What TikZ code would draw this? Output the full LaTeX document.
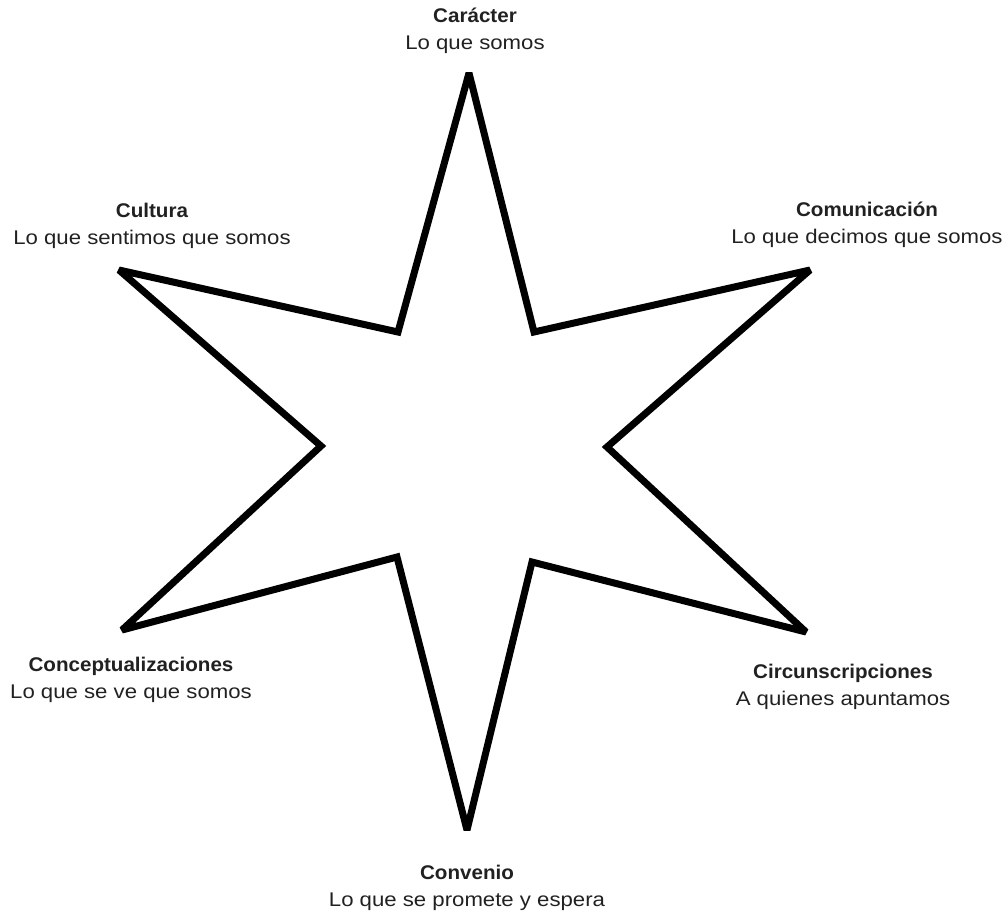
\documentclass[tikz,border=0pt]{standalone}
\usepackage{fontspec}
\setmainfont{Liberation Sans}[FakeStretch=1.12,BoldFeatures={FakeStretch=1.04}]
\begin{document}
\begin{tikzpicture}[x=1pt,y=-1pt,
  star/.style={draw=black,line width=7pt,line join=miter,miter limit=3,fill=white},
  lbl/.style={align=center,font=\fontsize{19.8}{27.5}\selectfont,text=black!87,inner sep=0pt}]
\useasboundingbox (0,0) rectangle (1008,913);
\coordinate (o1) at (469,73);
\coordinate (i1) at (534,332);
\coordinate (o2) at (810,270);
\coordinate (i2) at (607,447);
\coordinate (o3) at (806,632);
\coordinate (i3) at (532,562);
\coordinate (o4) at (467,830);
\coordinate (i4) at (397,557);
\coordinate (o5) at (122,630);
\coordinate (i5) at (321,446);
\coordinate (o6) at (119,270);
\coordinate (i6) at (398,332);
\draw[star] (o1) -- (i1) -- (o2) -- (i2) -- (o3) -- (i3) -- (o4) -- (i4) -- (o5) -- (i5) -- (o6) -- (i6) -- cycle;
\node[lbl] (caracter) at (475,31) {\textbf{Carácter}\\Lo que somos};
\node[lbl] (cultura) at (152,226) {\textbf{Cultura}\\Lo que sentimos que somos};
\node[lbl] (comunicacion) at (867,225) {\textbf{Comunicación}\\Lo que decimos que somos};
\node[lbl] (concept) at (131,680) {\textbf{Conceptualizaciones}\\Lo que se ve que somos};
\node[lbl] (circun) at (843,687) {\textbf{Circunscripciones}\\A quienes apuntamos};
\node[lbl] (convenio) at (467,888) {\textbf{Convenio}\\Lo que se promete y espera};
\end{tikzpicture}
\end{document}
